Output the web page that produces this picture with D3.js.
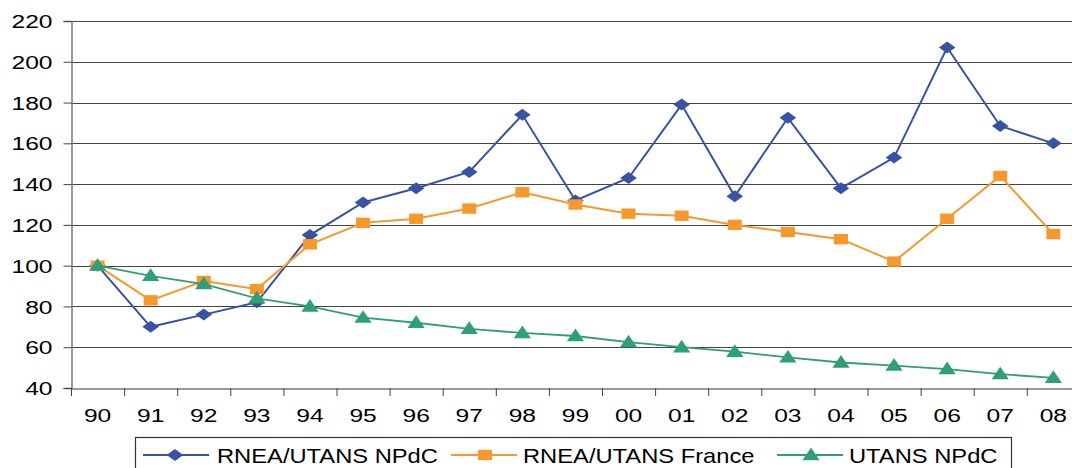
<!DOCTYPE html>
<html>
<head>
<meta charset="utf-8">
<script src="https://cdn.jsdelivr.net/npm/d3@7"></script>
<style>
  body { margin: 0; background: #fff; }
  svg { display: block; font-family: "Liberation Sans", Arial, sans-serif; }
</style>
</head>
<body>
<svg id="chart" width="1072" height="468"></svg>
<script>
var years = ["90", "91", "92", "93", "94", "95", "96", "97", "98", "99",
  "00", "01", "02", "03", "04", "05", "06", "07", "08"];
var rneaNpdc = [100, 70, 76, 82, 115, 131, 138, 146, 174, 132,
  143, 179, 134, 172.5, 138, 153, 207, 168.5, 160];
var rneaFrance = [100, 83, 92.5, 88.5, 110.5, 121, 123, 128, 136, 130,
  125.5, 124.5, 120, 116.5, 113, 102, 123, 144, 115.5];
var utansNpdc = [100, 95, 91, 84, 80, 74.5, 72, 69, 67, 65.5,
  62.5, 60, 57.8, 55, 52.5, 51, 49.3, 46.8, 45];
var yTicks = [40, 60, 80, 100, 120, 140, 160, 180, 200, 220];

// marker shapes, a bit wider than tall like the original
var wideDiamond = { draw: function (ctx, size) {
  var w = 8.3, h = 6;
  ctx.moveTo(-w, 0); ctx.lineTo(0, -h); ctx.lineTo(w, 0); ctx.lineTo(0, h); ctx.closePath();
} };
var wideSquare = { draw: function (ctx, size) {
  ctx.rect(-7, -5.2, 14, 10.4);
} };
var wideTriangle = { draw: function (ctx, size) {
  ctx.moveTo(0, -7.5); ctx.lineTo(8.6, 5.2); ctx.lineTo(-8.6, 5.2); ctx.closePath();
} };

var series = [
  { name: "RNEA/UTANS NPdC", values: rneaNpdc, color: "#3953a4", shape: wideDiamond, width: 2 },
  { name: "RNEA/UTANS France", values: rneaFrance, color: "#f7982c", shape: wideSquare, width: 2 },
  { name: "UTANS NPdC", values: utansNpdc, color: "#2e9f77", shape: wideTriangle, width: 1.8 }
];

var svg = d3.select("#chart");
var plotLeft = 71, plotTop = 21, plotBottom = 388;
var sx = 1.33; // labels are drawn wide in the reference

var x = d3.scaleBand().domain(years).range([plotLeft, plotLeft + 19 * 53.1]);
var y = d3.scaleLinear().domain([40, 220]).range([plotBottom, plotTop]);

// gridlines
svg.append("g").selectAll("line").data(yTicks.slice(1)).enter().append("line")
  .attr("x1", plotLeft).attr("x2", 1072)
  .attr("y1", function (d) { return Math.round(y(d)) + 0.5; })
  .attr("y2", function (d) { return Math.round(y(d)) + 0.5; })
  .attr("stroke", "#444").attr("stroke-width", 1.2);

// y axis
var yAxis = svg.append("g").attr("transform", "translate(" + (plotLeft + 0.5) + ",0)")
  .call(d3.axisLeft(y).tickValues(yTicks).tickSize(8).tickPadding(0));
yAxis.select(".domain").attr("stroke", "#777").attr("stroke-width", 1.5);
yAxis.selectAll(".tick line").attr("stroke", "#444");
yAxis.selectAll("text")
  .attr("x", -19 / sx).attr("dy", "0.36em")
  .attr("transform", "scale(" + sx + ",1)")
  .attr("font-size", 18.5).attr("fill", "#000")
  .attr("font-family", "Liberation Sans, Arial, sans-serif");

// x axis
var xAxis = svg.append("g").attr("transform", "translate(0," + (plotBottom + 0.5) + ")")
  .call(d3.axisBottom(x).tickSize(0).tickPadding(0));
xAxis.select(".domain").attr("stroke", "#777").attr("stroke-width", 1.5);
xAxis.selectAll("text")
  .attr("x", 0).attr("y", 34).attr("dy", 0)
  .attr("transform", "scale(" + sx + ",1)")
  .attr("font-size", 18.5).attr("fill", "#000")
  .attr("font-family", "Liberation Sans, Arial, sans-serif");
svg.append("g").selectAll("line").data(d3.range(20)).enter().append("line")
  .attr("x1", function (i) { return plotLeft + 0.5 + i * x.step(); })
  .attr("x2", function (i) { return plotLeft + 0.5 + i * x.step(); })
  .attr("y1", plotBottom).attr("y2", plotBottom + 8)
  .attr("stroke", "#444");

function cx(i) { return x(years[i]) + x.bandwidth() / 2; }

var line = d3.line()
  .x(function (d, i) { return cx(i); })
  .y(function (d) { return y(d); });

series.forEach(function (s) {
  svg.append("path").datum(s.values)
    .attr("d", line).attr("fill", "none")
    .attr("stroke", s.color).attr("stroke-width", s.width);
  svg.append("g").selectAll("path").data(s.values).enter().append("path")
    .attr("transform", function (d, i) {
      return "translate(" + cx(i) + "," + y(d) + ")";
    })
    .attr("d", d3.symbol().type(s.shape))
    .attr("fill", s.color);
});

// legend
var legend = svg.append("g");
legend.append("rect")
  .attr("x", 135.5).attr("y", 437.5).attr("width", 876).attr("height", 40)
  .attr("fill", "#fff").attr("stroke", "#333").attr("stroke-width", 1.2);
var legendX = [143, 451, 777];
series.forEach(function (s, k) {
  var g = legend.append("g").attr("transform", "translate(" + legendX[k] + ",455)");
  g.append("line").attr("x1", 0).attr("x2", 66)
    .attr("stroke", s.color).attr("stroke-width", s.width);
  g.append("path")
    .attr("transform", "translate(" + (k === 0 ? 32 : 34) + ",0)")
    .attr("d", d3.symbol().type(s.shape))
    .attr("fill", s.color);
  g.append("text")
    .attr("transform", "translate(" + (k === 0 ? 74 : 72) + ",7.5) scale(1.13,1)")
    .attr("font-size", 21).attr("fill", "#000").text(s.name);
});
</script>
</body>
</html>
